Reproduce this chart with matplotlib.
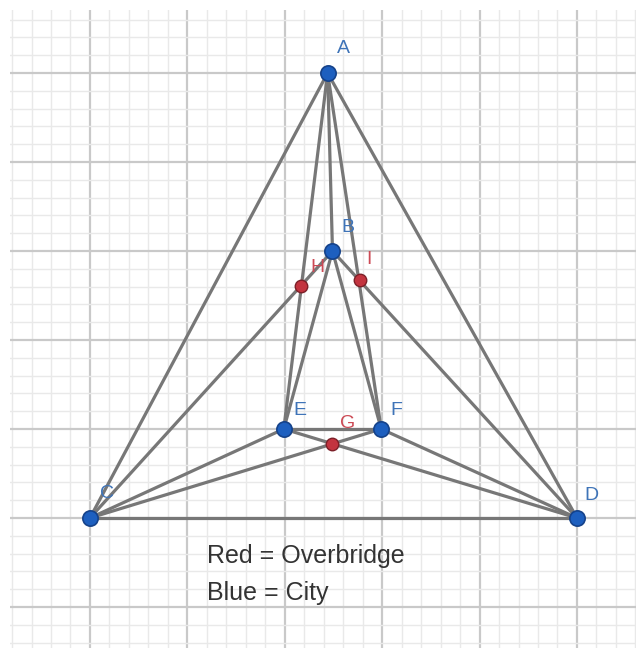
import matplotlib.pyplot as plt
from matplotlib.ticker import MultipleLocator

# city points (blue) and overbridge points (red), grid units
city_names = ['A', 'B', 'C', 'D', 'E', 'F']
city_x = [2.44, 2.49, 0.0, 5.0, 1.99, 2.99]
city_y = [5.0, 3.0, 0.0, 0.0, 1.0, 1.0]

bridge_names = ['G', 'H', 'I']
bridge_x = [2.48, 2.17, 2.77]
bridge_y = [0.83, 2.61, 2.67]

# roads between cities
roads = [('A', 'C'), ('A', 'D'), ('A', 'B'), ('A', 'E'), ('A', 'F'),
         ('B', 'C'), ('B', 'D'), ('B', 'E'), ('B', 'F'),
         ('C', 'D'), ('C', 'E'), ('C', 'F'),
         ('D', 'E'), ('D', 'F'), ('E', 'F')]

# label offsets (grid units)
city_lab_dx = [0.16, 0.16, 0.17, 0.15, 0.17, 0.16]
city_lab_dy = [0.28, 0.26, 0.27, 0.25, 0.21, 0.21]
bridge_lab_dx = [0.17, 0.17, 0.09]
bridge_lab_dy = [0.23, 0.21, 0.24]

legend_lines = ['Red = Overbridge', 'Blue = City']

pos = dict(zip(city_names, zip(city_x, city_y)))

fig = plt.figure(figsize=(6.36, 6.48), dpi=100)
ax = fig.add_axes([10 / 636, 0, 626 / 636, 638 / 648])
ax.set_xlim(-0.821, 5.606)
ax.set_ylim(-1.461, 5.708)

ax.xaxis.set_major_locator(MultipleLocator(1))
ax.yaxis.set_major_locator(MultipleLocator(1))
ax.xaxis.set_minor_locator(MultipleLocator(0.2))
ax.yaxis.set_minor_locator(MultipleLocator(0.2))
ax.grid(which='minor', color='#e9e9e9', lw=1.0)
ax.grid(which='major', color='#c9c9c9', lw=1.6)
ax.tick_params(which='both', length=0, labelbottom=False, labelleft=False)
for s in ax.spines.values():
    s.set_visible(False)
ax.set_axisbelow(True)

for a, b in roads:
    ax.plot([pos[a][0], pos[b][0]], [pos[a][1], pos[b][1]],
            color='#777777', lw=2.3, solid_capstyle='round', zorder=2)

ax.plot(city_x, city_y, 'o', ms=11, mfc='#1d5fbf', mec='#15428a', mew=1.2, zorder=4)
ax.plot(bridge_x, bridge_y, 'o', ms=9, mfc='#c3343f', mec='#7c2028', mew=1.0, zorder=4)

for n, x, y, dx, dy in zip(city_names, city_x, city_y, city_lab_dx, city_lab_dy):
    ax.text(x + dx, y + dy, n, color='#3f74b8', fontsize=14,
            family='Liberation Sans', ha='center', va='center', zorder=5)
for n, x, y, dx, dy in zip(bridge_names, bridge_x, bridge_y, bridge_lab_dx, bridge_lab_dy):
    ax.text(x + dx, y + dy, n, color='#cc4a55', fontsize=14,
            family='Liberation Sans', ha='center', va='center', zorder=5)

for i, t in enumerate(legend_lines):
    ax.text(1.20, -0.43 - 0.415 * i, t, color='#333333', fontsize=18,
            family='Liberation Sans', ha='left', va='center', zorder=5)

fig.savefig('out.png', dpi=100, facecolor='white')
